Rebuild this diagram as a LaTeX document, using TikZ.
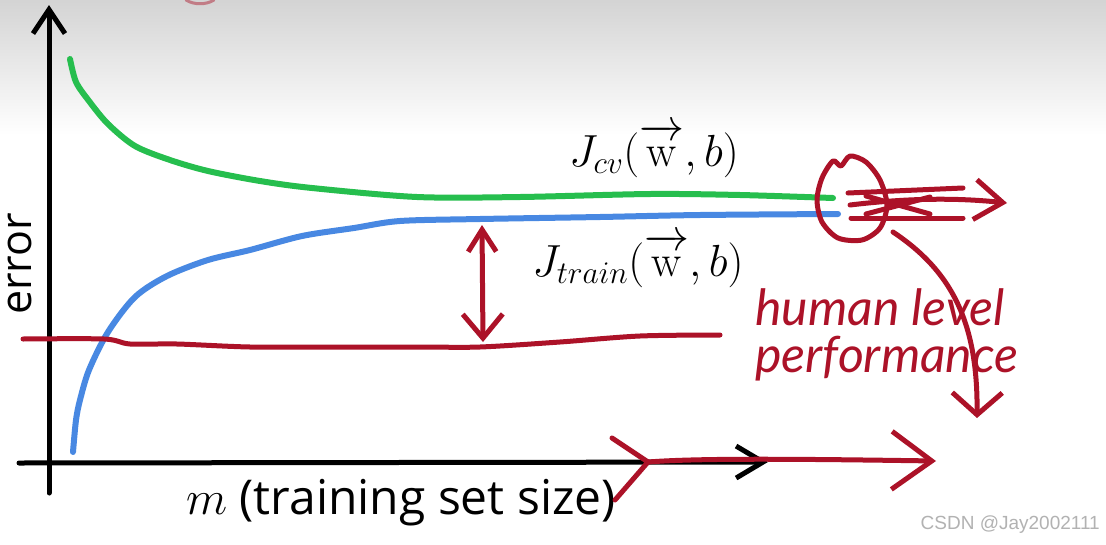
\RequirePackage{fix-cm}
\documentclass[tikz,border=0pt]{standalone}
\usepackage{fontspec}
\usepackage{tikz}
\usetikzlibrary{arrows.meta,positioning,calc}
\newfontfamily\AxisFont{Open Sans}
\newfontfamily\PenFont{Lato}
\newfontfamily\MarkFont{Liberation Sans}
\definecolor{PenRed}{RGB}{172,18,40}
\definecolor{CvGreen}{RGB}{38,190,78}
\definecolor{TrainBlue}{RGB}{72,136,226}
\newcommand*{\Wvec}{\overrightarrow{\mathrm{w}\vphantom{t}}}
\begin{document}
\begin{tikzpicture}[x=1pt,y=-1pt,
  pen/.style={line width=5pt,line cap=round,line join=round},
  ink/.style={pen,PenRed},
  curve/.style={pen,line width=6pt}]
\useasboundingbox (0,0) rectangle (1106,544);
\fill[white] (0,0) rectangle (1106,544);
\shade[top color=black!17,bottom color=white] (0,0) rectangle (1106,135);
\draw[ink,line width=3pt,opacity=0.45] (186,0) .. controls (194,5) and (206,5) .. (214,0);
% axes
\coordinate (YBot) at (49,493);
\coordinate (YTop) at (49,5);
\coordinate (XLeft) at (19,463);
\coordinate (XRight) at (768,462);
\draw[pen,black,-{Straight Barb[length=24pt,width=32pt]}] (YBot) -- (YTop);
\draw[pen,black,-{Straight Barb[length=27pt,width=32pt]}] (XLeft) -- (XRight);
\node[font=\AxisFont\fontsize{48}{52}\selectfont] (XLabel) at (401,503) {$m$ (training set size)};
\node[font=\AxisFont\fontsize{43}{48}\selectfont,rotate=90,inner sep=0pt] (YLabel) at (20,264) {error};
% curves
\draw[curve,CvGreen] plot[smooth] coordinates {(70,59) (76,82) (89,101) (108,124) (135,146) (170,160) (208,171) (260,181) (312,188) (417,197) (520,197) (650,194) (740,195) (833,198)};
\draw[curve,TrainBlue] plot[smooth] coordinates {(73,452) (76,420) (80,400) (89,370) (108,332) (135,297) (167,276) (208,260) (250,250) (302,236) (354,228) (400,221) (480,219) (600,217) (700,215) (838,214)};
\draw[ink] plot[smooth] coordinates {(23,339) (104,339) (130,344) (177,344) (250,347) (333,347) (420,347) (480,347) (560,342) (640,336) (720,335)};
\node[font=\fontsize{45}{48}\selectfont,inner sep=0pt] (Jcv) at (654,151) {$J_{cv}(\Wvec,b)$};
\node[font=\fontsize{45}{48}\selectfont,inner sep=0pt] (Jtrain) at (638,261) {$J_{train}(\Wvec,b)$};
% gap arrow
\coordinate (GapTop) at (482,225);
\coordinate (GapBot) at (483,342);
\draw[ink,{Straight Barb[length=22pt,width=28pt]}-{Straight Barb[length=24pt,width=40pt]}] (GapTop) -- (GapBot);
% circled ends
\draw[ink] plot[smooth cycle] coordinates {(822,178) (833,161) (841,166) (850,156) (866,162) (880,180) (887,205) (880,228) (862,240) (838,238) (822,222) (817,200)};
\coordinate (LoopOut) at (893,232);
\coordinate (HlpTip) at (977,418);
\coordinate (FarTip) at (1007,203);
\draw[ink] (848,193) -- (963,188);
\draw[ink] (851,218) -- (963,218);
\draw[ink] (866,196) -- (930,214);
\draw[ink] (866,214) -- (930,197);
\draw[ink,-{Straight Barb[length=28pt,width=40pt]}] (850,205) .. controls (900,199) and (950,197) .. (FarTip);
\draw[ink,-{Straight Barb[length=22pt,width=50pt]}] (LoopOut) .. controls (950,270) and (978,320) .. (HlpTip);
\node[font=\PenFont\itshape\fontsize{50}{47}\selectfont,text=PenRed,align=left,anchor=north west,inner sep=0pt] (Hlp) at (755,288) {human level\\performance};
% bigger m
\coordinate (TailIn) at (648,462);
\coordinate (BigTip) at (936,461);
\draw[ink] (612,438) -- (TailIn) -- (615,500);
\draw[ink,-{Straight Barb[length=40pt,width=58pt]}] (TailIn) .. controls (700,458) and (800,459) .. (BigTip);
\node[font=\MarkFont\fontsize{19}{22}\selectfont,text=black!30,anchor=south east,inner sep=0pt] (Mark) at (1100,534) {CSDN @Jay2002111};
\end{tikzpicture}
\end{document}
